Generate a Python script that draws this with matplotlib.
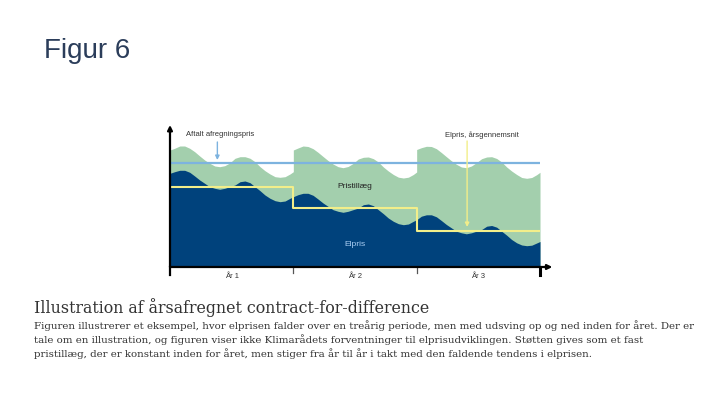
import matplotlib
matplotlib.use('Agg')
import matplotlib.pyplot as plt

# x in years (0..3), y in arbitrary price units
years = ['År 1', 'År 2', 'År 3']
year_pos = [0.5, 1.5, 2.5]

# top of the light green area (elpris + pristillæg), jumps up at each new year
green_t = [0, 0.038, 0.079, 0.119, 0.160, 0.200, 0.241, 0.281, 0.322, 0.363, 0.403, 0.444, 0.484,
           0.527, 0.568, 0.608, 0.649, 0.689, 0.730, 0.770, 0.811, 0.852, 0.892, 0.933, 0.973, 1.0,
           1.0, 1.038, 1.079, 1.119, 1.160, 1.200, 1.241, 1.281, 1.322, 1.363, 1.403, 1.444, 1.484,
           1.527, 1.568, 1.608, 1.649, 1.689, 1.730, 1.770, 1.811, 1.852, 1.892, 1.933, 1.973, 2.0,
           2.0, 2.038, 2.079, 2.119, 2.160, 2.200, 2.241, 2.281, 2.322, 2.363, 2.403, 2.444, 2.484,
           2.527, 2.568, 2.608, 2.649, 2.689, 2.730, 2.770, 2.811, 2.852, 2.892, 2.933, 2.973, 3.0]
green_v = [117, 118.7, 121, 121, 118.7, 115.3, 111, 107, 103.7, 101, 100.3, 101.3, 104,
           108.7, 110.3, 110.3, 108.7, 105.3, 100.3, 96.3, 93, 90.3, 89.7, 90.3, 93, 95.3,
           117, 119, 121, 120.5, 118.3, 114.7, 110.5, 106.5, 103, 100.3, 99.3, 100.5, 103.5,
           108, 109.7, 110, 108.3, 105, 100, 96, 92.5, 89.8, 89, 89.8, 92.5, 95,
           117.5, 119.3, 120.7, 120.5, 118.3, 114.5, 110.3, 106.3, 102.7, 100, 99.3, 101, 104.3,
           108.3, 110, 110.3, 108.5, 105, 100, 96, 92.5, 89.5, 88.7, 89.5, 92.3, 94.7]

# top of the dark area (elpris)
dark_t = [0, 0.038, 0.079, 0.119, 0.160, 0.200, 0.241, 0.281, 0.322, 0.363, 0.403, 0.444, 0.484,
          0.527, 0.568, 0.608, 0.649, 0.689, 0.730, 0.770, 0.811, 0.852, 0.892, 0.933, 0.973, 1.0,
          1.038, 1.079, 1.119, 1.160, 1.200, 1.241, 1.281, 1.322, 1.363, 1.403, 1.444, 1.484,
          1.527, 1.568, 1.608, 1.649, 1.689, 1.730, 1.770, 1.811, 1.852, 1.892, 1.933, 1.973, 2.0,
          2.038, 2.079, 2.119, 2.160, 2.200, 2.241, 2.281, 2.322, 2.363, 2.403, 2.444, 2.484,
          2.527, 2.568, 2.608, 2.649, 2.689, 2.730, 2.770, 2.811, 2.852, 2.892, 2.933, 2.973, 3.0]
dark_v = [93.7, 95.3, 96.7, 96.7, 94.7, 91, 87, 83.7, 80.3, 78.7, 77.7, 78.7, 80.3,
          82, 85.3, 86, 84.3, 80.3, 76.3, 72, 68.7, 66.3, 65.3, 66, 68.7, 70.3,
          72.3, 73.7, 73.7, 71.7, 68, 64, 60.7, 57.3, 55.7, 54.7, 55.7, 57.3,
          59, 62.3, 63, 61.3, 57.3, 53.3, 49, 45.7, 43.3, 42.3, 43, 45.7, 47.3,
          50.8, 52.2, 52.2, 50.2, 46.5, 42.5, 39.2, 35.8, 34.2, 33.2, 34.2, 35.8,
          37.5, 40.8, 41.5, 39.8, 35.8, 31.8, 27.5, 24.2, 22, 21.3, 21.8, 24, 25.5]

year_edges = [0, 1, 2, 3]
avg_price = [80, 58.7, 36]      # elpris, årsgennemsnit
strike_price = 104.3            # aftalt afregningspris

title = 'Figur 6'
heading = 'Illustration af årsafregnet contract-for-difference'
body_lines = [
    'Figuren illustrerer et eksempel, hvor elprisen falder over en treårig periode, men med udsving op og ned inden for året. Der er',
    'tale om en illustration, og figuren viser ikke Klimarådets forventninger til elprisudviklingen. Støtten gives som et fast',
    'pristillæg, der er konstant inden for året, men stiger fra år til år i takt med den faldende tendens i elprisen.',
]

GREEN = '#a3cfad'
NAVY = '#00427c'
YELLOW = '#f2ee8a'
LBLUE = '#7db3df'

plt.rcParams['font.family'] = ['Liberation Sans', 'DejaVu Sans']

fig = plt.figure(figsize=(7.2, 4.05), dpi=100)
ax = fig.add_axes([170 / 720, (405 - 267) / 405, 370 / 720, 141 / 405])
ax.set_xlim(0, 3)
ax.set_ylim(0, 141)
ax.axis('off')

ax.fill_between(green_t, 0, green_v, color=GREEN, lw=0)
ax.fill_between(dark_t, 0, dark_v, color=NAVY, lw=0)
ax.plot([0, 3], [strike_price, strike_price], color=LBLUE, lw=1.6)
ax.step(year_edges, avg_price + [avg_price[-1]], where='post', color=YELLOW, lw=1.5)

# axes with arrows
ax.annotate('', xy=(0, 142), xytext=(0, 0), annotation_clip=False,
            arrowprops=dict(arrowstyle='-|>', color='black', lw=1.6, mutation_scale=7, shrinkA=0, shrinkB=0))
ax.annotate('', xy=(3.1, 0), xytext=(0, 0), annotation_clip=False,
            arrowprops=dict(arrowstyle='-|>', color='black', lw=1.6, mutation_scale=7, shrinkA=0, shrinkB=0))
for e in year_edges:
    if e in (0, 3):
        ax.plot([e, e], [0, -8], color='black', lw=2.2 if e == 3 else 1.6, clip_on=False)
    else:
        ax.plot([e, e], [0, -6], color='#555555', lw=0.9, clip_on=False)
for p, lab in zip(year_pos, years):
    ax.text(p, -9.7, lab, ha='center', va='center', fontsize=5.5, color='#333333')

# annotations
ax.text(0.13, 132, 'Aftalt afregningspris', fontsize=5.5, color='#333333', va='center')
ax.annotate('', xy=(0.384, 107), xytext=(0.384, 125),
            arrowprops=dict(arrowstyle='-|>', color=LBLUE, lw=1.0, mutation_scale=6, shrinkA=0, shrinkB=0))
ax.text(2.23, 132, 'Elpris, årsgennemsnit', fontsize=5.5, color='#333333', va='center')
ax.annotate('', xy=(2.409, 40), xytext=(2.409, 126),
            arrowprops=dict(arrowstyle='-|>', color=YELLOW, lw=1.0, mutation_scale=6, shrinkA=0, shrinkB=0))
ax.text(1.5, 81, 'Pristillæg', fontsize=6, color='#222222', ha='center', va='center')
ax.text(1.5, 23, 'Elpris', fontsize=6, color='#a9cdf2', ha='center', va='center')

# title and caption
fig.text(44 / 720, 1 - 58.5 / 405, title, fontsize=20, color='#2b3d5a', va='baseline')
fig.text(34 / 720, 1 - 308 / 405, heading, fontsize=11.4, color='#333333', va='center',
         family=['DejaVu Serif'])
for i, line in enumerate(body_lines):
    fig.text(34 / 720, 1 - (326 + 14 * i) / 405, line, fontsize=7.4, color='#333333',
             va='center', family=['DejaVu Serif'])

fig.savefig('out.png', dpi=100)
